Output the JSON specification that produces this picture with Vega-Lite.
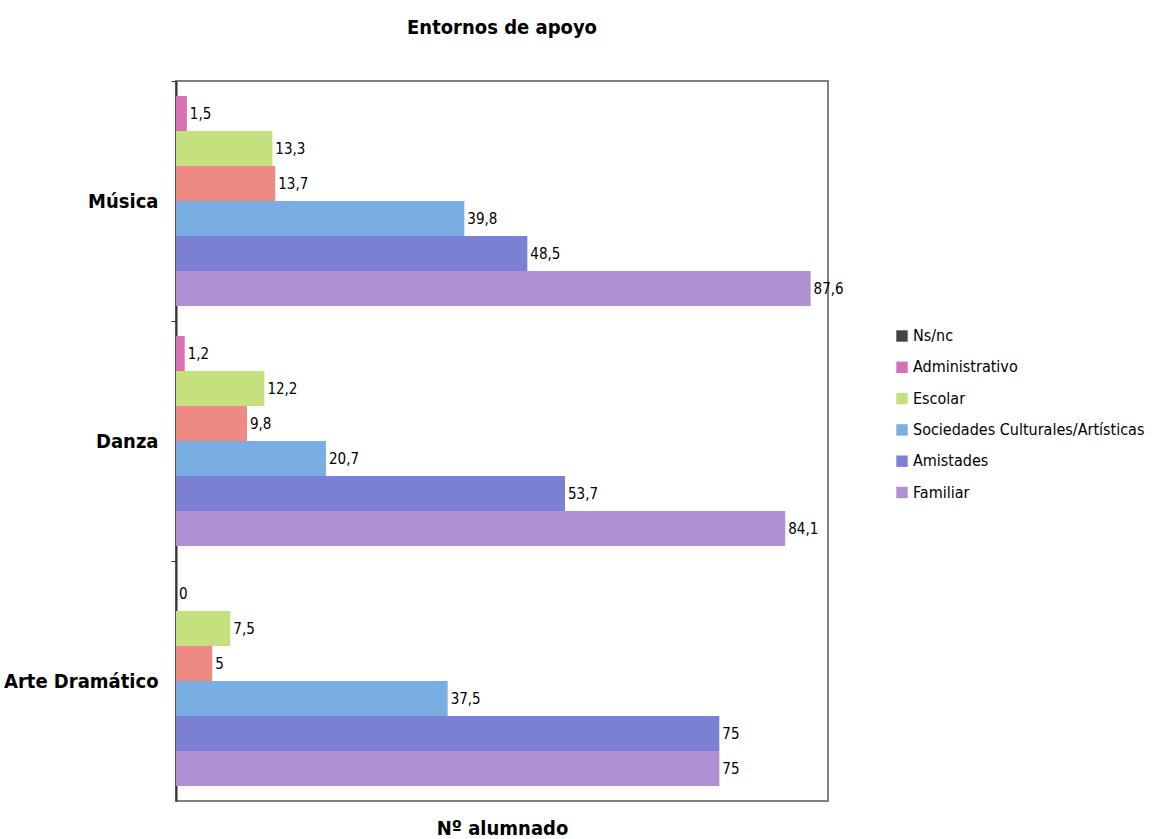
{
  "$schema": "https://vega.github.io/schema/vega-lite/v6.json",
  "autosize": {"type": "none"},
  "padding": {"left": 176, "top": 81, "right": 328, "bottom": 38},
  "width": 652,
  "height": 720,
  "background": "white",
  "title": {
    "text": "Entornos de apoyo",
    "font": "DejaVu Sans Condensed, sans-serif",
    "fontSize": 20,
    "fontWeight": "bold",
    "color": "#000000",
    "anchor": "middle",
    "offset": 43
  },
  "config": {
    "locale": {"number": {"decimal": ",", "thousands": ".", "grouping": [3], "currency": ["", " €"]}},
    "view": {"stroke": "#808080", "strokeWidth": 2},
    "font": "DejaVu Sans Condensed, sans-serif"
  },
  "data": {
    "values": [
      {"area": "Música", "serie": "Administrativo", "valor": 1.5},
      {"area": "Música", "serie": "Escolar", "valor": 13.3},
      {"area": "Música", "serie": "Otros", "valor": 13.7},
      {"area": "Música", "serie": "Sociedades Culturales/Artísticas", "valor": 39.8},
      {"area": "Música", "serie": "Amistades", "valor": 48.5},
      {"area": "Música", "serie": "Familiar", "valor": 87.6},
      {"area": "Danza", "serie": "Administrativo", "valor": 1.2},
      {"area": "Danza", "serie": "Escolar", "valor": 12.2},
      {"area": "Danza", "serie": "Otros", "valor": 9.8},
      {"area": "Danza", "serie": "Sociedades Culturales/Artísticas", "valor": 20.7},
      {"area": "Danza", "serie": "Amistades", "valor": 53.7},
      {"area": "Danza", "serie": "Familiar", "valor": 84.1},
      {"area": "Arte Dramático", "serie": "Administrativo", "valor": 0},
      {"area": "Arte Dramático", "serie": "Escolar", "valor": 7.5},
      {"area": "Arte Dramático", "serie": "Otros", "valor": 5},
      {"area": "Arte Dramático", "serie": "Sociedades Culturales/Artísticas", "valor": 37.5},
      {"area": "Arte Dramático", "serie": "Amistades", "valor": 75},
      {"area": "Arte Dramático", "serie": "Familiar", "valor": 75}
    ]
  },
  "encoding": {
    "y": {
      "field": "area",
      "type": "nominal",
      "sort": ["Música", "Danza", "Arte Dramático"],
      "scale": {"paddingInner": 0.125, "paddingOuter": 0.0625},
      "axis": {
        "title": null,
        "labelFont": "DejaVu Sans Condensed, sans-serif",
        "labelFontSize": 20,
        "labelFontWeight": "bold",
        "labelColor": "#000000",
        "labelPadding": 13,
        "tickOffset": -120,
        "labelOffset": 120,
        "tickSize": 5,
        "tickColor": "#333333",
        "domainColor": "#333333",
        "domainWidth": 2
      }
    },
    "yOffset": {
      "field": "serie",
      "type": "nominal",
      "sort": ["Administrativo", "Escolar", "Otros", "Sociedades Culturales/Artísticas", "Amistades", "Familiar"],
      "scale": {"paddingInner": 0, "paddingOuter": 0}
    },
    "x": {
      "field": "valor",
      "type": "quantitative",
      "scale": {"domain": [0, 90], "nice": false},
      "axis": {
        "title": "Nº alumnado",
        "titleFont": "DejaVu Sans Condensed, sans-serif",
        "titleFontSize": 20,
        "titleFontWeight": "bold",
        "titleColor": "#000000",
        "titlePadding": 17,
        "labels": false,
        "ticks": false,
        "domain": false,
        "grid": false
      }
    }
  },
  "layer": [
    {
      "mark": {"type": "bar"},
      "encoding": {
        "color": {
          "field": "serie",
          "type": "nominal",
          "scale": {
            "domain": ["Ns/nc", "Administrativo", "Escolar", "Otros", "Sociedades Culturales/Artísticas", "Amistades", "Familiar"],
            "range": ["#444444", "#d870b4", "#c5e07e", "#ef8984", "#7aaee3", "#7b80d3", "#ae90d3"]
          },
          "legend": {
            "values": ["Ns/nc", "Administrativo", "Escolar", "Sociedades Culturales/Artísticas", "Amistades", "Familiar"],
            "title": null,
            "orient": "none",
            "legendX": 718,
            "legendY": 247,
            "symbolType": "square",
            "symbolSize": 130,
            "symbolStrokeWidth": 0,
            "rowPadding": 15.3,
            "labelFont": "DejaVu Sans Condensed, sans-serif",
            "labelFontSize": 16,
            "labelColor": "#000000",
            "labelLimit": 300,
            "labelOffset": 3
          }
        }
      }
    },
    {
      "mark": {"type": "text", "align": "left", "baseline": "middle", "dx": 3, "fontSize": 15, "color": "#000000"},
      "encoding": {
        "text": {"field": "valor", "type": "quantitative", "format": ".1~f"}
      }
    }
  ]
}
